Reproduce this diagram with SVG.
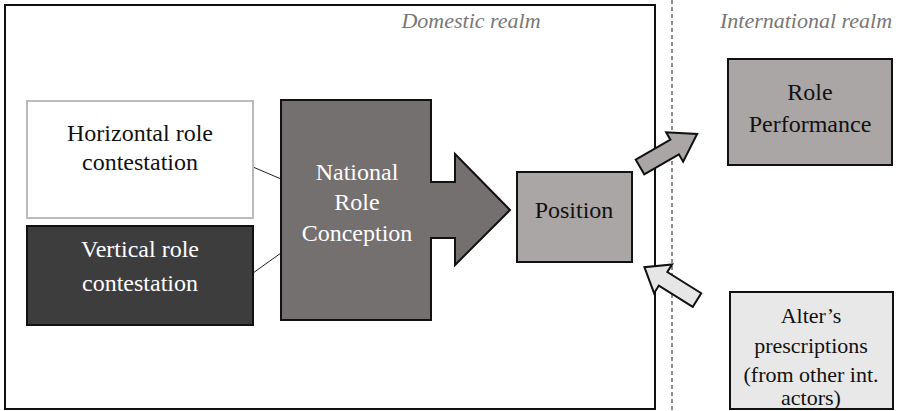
<svg xmlns="http://www.w3.org/2000/svg" width="902" height="411" viewBox="0 0 902 411" font-family="Liberation Serif, Times New Roman, serif">
  <style>
    text { text-anchor: middle; }
    .lbl { font-size: 24px; fill: #111; }
    .lbl-w { font-size: 24px; fill: #fff; }
    .small { font-size: 22px; fill: #111; }
    .realm { font-size: 22px; font-style: italic; fill: #777; }
    .box { stroke: #111; stroke-width: 2; }
  </style>

  <!-- domestic realm frame and realm divider -->
  <rect x="5" y="5" width="650" height="404" fill="#fff" stroke="#111" stroke-width="2"/>
  <line x1="672" y1="0" x2="672" y2="411" stroke="#444" stroke-width="1.2" stroke-dasharray="4,3"/>
  <text class="realm" x="471" y="28">Domestic realm</text>
  <text class="realm" x="806" y="28">International realm</text>

  <g id="connectors">
    <line x1="253" y1="167" x2="281" y2="179" stroke="#222" stroke-width="1"/>
    <line x1="253" y1="273" x2="281" y2="253" stroke="#222" stroke-width="1"/>
    <!-- outgoing arrow towards role performance -->
    <path transform="translate(640,167) rotate(-30)" d="M0,-8.5 H40 V-17 L66,0 L40,17 V8.5 H0 Z" fill="#aaa6a5" stroke="#111" stroke-width="2" stroke-linejoin="miter"/>
    <!-- incoming arrow from alter's prescriptions -->
    <path transform="translate(697,300) rotate(-148)" d="M0,-8 H40 V-17 L62,0 L40,17 V8 H0 Z" fill="#e6e6e6" stroke="#111" stroke-width="2" stroke-linejoin="miter"/>
  </g>

  <g id="horizontal">
    <rect x="27" y="101" width="226" height="117" fill="#fff" stroke="#bbb" stroke-width="2"/>
    <text class="lbl" x="140" y="141">Horizontal role</text>
    <text class="lbl" x="140" y="170">contestation</text>
  </g>

  <g id="vertical">
    <rect x="27" y="226" width="226" height="99" fill="#3d3d3d" class="box"/>
    <text class="lbl-w" x="140" y="257">Vertical role</text>
    <text class="lbl-w" x="140" y="291">contestation</text>
  </g>

  <g id="nrc">
    <path d="M281,100 H431 V182 H455 V154 L510,210 L455,265 V238 H431 V320 H281 Z" fill="#757070" stroke="#111" stroke-width="2"/>
    <text class="lbl-w" x="357" y="180">National</text>
    <text class="lbl-w" x="357" y="210">Role</text>
    <text class="lbl-w" x="357" y="241">Conception</text>
  </g>

  <g id="position">
    <rect x="517" y="172" width="115" height="90" fill="#aaa6a5" class="box"/>
    <text class="lbl" x="574" y="218">Position</text>
  </g>

  <g id="performance">
    <rect x="728" y="59" width="164" height="106" fill="#aaa6a5" class="box"/>
    <text class="lbl" x="810" y="100">Role</text>
    <text class="lbl" x="810" y="132">Performance</text>
  </g>

  <g id="alter">
    <rect x="730" y="292" width="163" height="117" fill="#e8e8e8" class="box"/>
    <text class="small" x="811" y="323">Alter’s</text>
    <text class="small" x="811" y="353">prescriptions</text>
    <text class="small" x="811" y="382">(from other int.</text>
    <text class="small" x="811" y="405">actors)</text>
  </g>
</svg>
